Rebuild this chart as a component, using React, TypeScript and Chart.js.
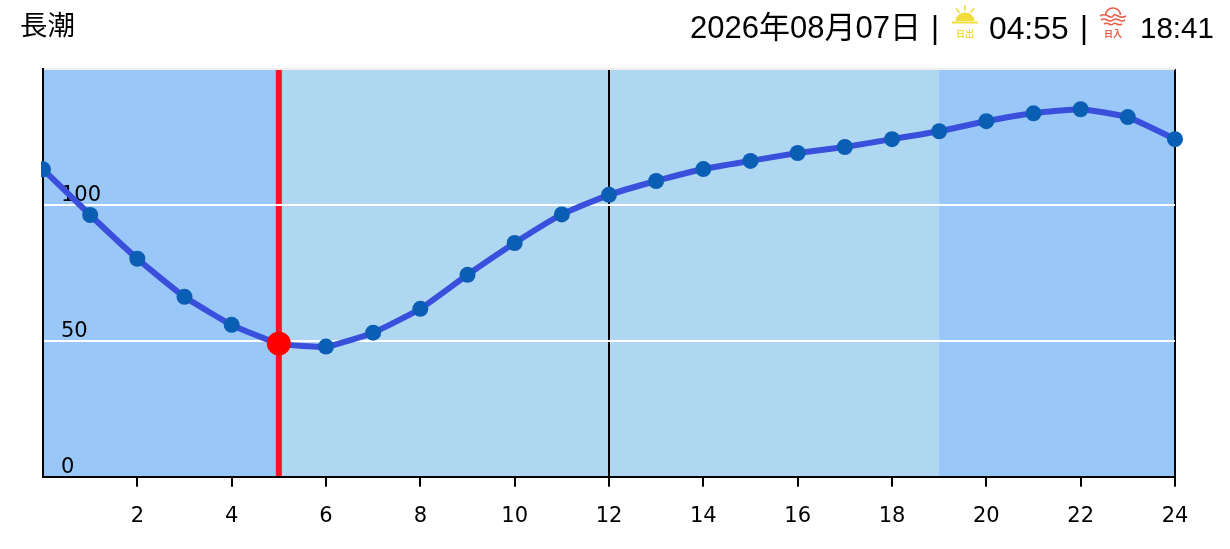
import React, { useEffect, useRef } from "react";
import { Chart, registerables } from "chart.js";

Chart.register(...registerables);

const TITLE = "長潮";
const DATE_TEXT = "2026年08月07日";
const SUNRISE_TEXT = "04:55";
const SUNSET_TEXT = "18:41";
const hours = [0, 1, 2, 3, 4, 5, 6, 7, 8, 9, 10, 11, 12, 13, 14, 15, 16, 17, 18, 19, 20, 21, 22, 23, 24];
const tide = [113.1, 96.3, 80.2, 66.2, 55.9, 49, 47.9, 53, 61.8, 74.3, 86, 96.5, 103.7, 108.8, 113.2, 116.2, 119.1, 121.3, 124.2, 127.1, 130.8, 133.7, 135.2, 132.3, 124.2];
const currentHour = [5];
const currentTide = [49];
const dayStart = 5;
const dayEnd = 19;
const strongHours = [0, 12, 24];

const FONT = '"Liberation Sans", "Noto Sans CJK JP", sans-serif';

const bands = {
  id: "bands",
  beforeDraw(chart: any) {
    const { ctx, chartArea: a, scales } = chart;
    const x = scales.x;
    const px = (v: number) => x.getPixelForValue(v);
    ctx.save();
    ctx.fillStyle = "#99c8f8";
    ctx.fillRect(a.left, a.top, a.right - a.left, a.bottom - a.top);
    ctx.fillStyle = "#b0d7f1";
    ctx.fillRect(px(dayStart), a.top, px(dayEnd) - px(dayStart), a.bottom - a.top);
    ctx.fillStyle = "#ff1027";
    ctx.fillRect(px(currentHour[0]) - 3, a.top, 6, a.bottom - a.top);
    ctx.restore();
  },
};

function Sun() {
  return (
    <svg width="28" height="38" viewBox="0 0 28 38" style={{ position: "absolute", left: 951, top: 4 }}>
      <g stroke="#f0dc3c" strokeWidth="1.8" strokeLinecap="round">
        <line x1="14" y1="2" x2="14" y2="6" />
        <line x1="5.5" y1="5" x2="8" y2="8" />
        <line x1="22.5" y1="5" x2="20" y2="8" />
      </g>
      <path d="M4.5 17 A9.5 8.5 0 0 1 23.5 17 Z" fill="#f0dc3c" />
      <rect x="1" y="17.5" width="26" height="2" fill="#f0dc3c" />
      <text x="14" y="33" textAnchor="middle" fontSize="9" fontWeight="700" fill="#f0dc3c" fontFamily='"Noto Sans CJK JP"'>日出</text>
    </svg>
  );
}

function Sunset() {
  return (
    <svg width="28" height="38" viewBox="0 0 28 38" style={{ position: "absolute", left: 1099, top: 4 }}>
      <g stroke="#e8604c" strokeWidth="1.6" fill="none">
        <path d="M6.5 11 A7.5 7 0 0 1 21.5 11" />
        <path d="M1 12 Q5 9.5 9 12 T14 12 T19 12 T27 12" />
        <path d="M2 16 Q5 14 8 16 T14 16 T20 16 T26 16" />
        <path d="M5 20 Q7.5 18.5 10 20 T14 20 T18 20 T23 20" />
      </g>
      <text x="14" y="33" textAnchor="middle" fontSize="9" fontWeight="700" fill="#e8604c" fontFamily='"Noto Sans CJK JP"'>日入</text>
    </svg>
  );
}

export default function App() {
  const ref = useRef<HTMLCanvasElement>(null);
  useEffect(() => {
    const chart = new Chart(ref.current!, {
      type: "line",
      data: {
        datasets: [
          {
            data: currentHour.map((h, i) => ({ x: h, y: currentTide[i] })),
            pointRadius: 12,
            pointHoverRadius: 12,
            pointBackgroundColor: "#ff0000",
            pointBorderWidth: 0,
            showLine: false,
            order: 0,
          },
          {
            data: hours.map((h, i) => ({ x: h, y: tide[i] })),
            borderColor: "#3a50dc",
            borderWidth: 6,
            tension: 0.15,
            pointRadius: 8,
            pointHoverRadius: 8,
            pointBackgroundColor: "#0a5eb4",
            pointBorderWidth: 0,
            clip: { left: 2, right: 10, top: 0, bottom: 0 },
            order: 1,
          },
        ],
      },
      options: {
        animation: false,
        responsive: false,
        events: [],
        layout: { padding: { left: 43, right: 55, top: 69, bottom: 3 } },
        plugins: { legend: { display: false }, tooltip: { enabled: false } },
        scales: {
          x: {
            type: "linear",
            min: 0,
            max: 24,
            ticks: {
              stepSize: 2,
              maxRotation: 0,
              color: "#000",
              padding: 17,
              font: { family: '"DejaVu Sans"', size: 21 },
              callback: (v: any) => (v === 0 ? "" : String(v)),
            },
            grid: {
              color: (c: any) => (strongHours.includes(c.tick?.value) ? "#000" : "transparent"),
              lineWidth: 2,
              tickLength: 10,
              tickColor: (c: any) => (c.tick?.value === 0 ? "transparent" : "#000"),
              tickWidth: 2,
            },
            border: { color: "#000", width: 2 },
          },
          y: {
            type: "linear",
            min: 0,
            max: 150,
            afterFit: (s: any) => {
              s.width = 0;
            },
            ticks: {
              stepSize: 50,
              mirror: true,
              padding: 18,
              labelOffset: -9,
              color: "#000",
              font: { family: '"DejaVu Sans"', size: 21 },
              callback: (v: any) => (v === 150 ? "" : String(v)),
            },
            grid: {
              color: (c: any) => (c.tick?.value === 150 ? "#eeeeee" : "#ffffff"),
              lineWidth: 2,
              drawTicks: false,
            },
            border: { color: "#000", width: 2 },
          },
        },
      },
      plugins: [bands],
    } as any);
    return () => chart.destroy();
  }, []);

  const text: React.CSSProperties = { position: "absolute", top: 10, fontFamily: FONT, fontSize: 31, lineHeight: "36px", color: "#000", whiteSpace: "pre" };

  return (
    <div style={{ position: "absolute", left: 0, top: 0, width: 1230, height: 549, background: "#fff", overflow: "hidden" }}>
      <canvas ref={ref} width={1230} height={549} style={{ position: "absolute", left: 0, top: 0, width: 1230, height: 549 }} />
      <div style={{ ...text, left: 20, top: 8, fontSize: 27.5 }}>{TITLE}</div>
      <div style={{ ...text, left: 690 }}>{DATE_TEXT}</div>
      <div style={{ ...text, left: 931 }}>|</div>
      <Sun />
      <div style={{ ...text, left: 989, fontSize: 31.8 }}>{SUNRISE_TEXT}</div>
      <div style={{ ...text, left: 1080 }}>|</div>
      <Sunset />
      <div style={{ ...text, left: 1140, fontSize: 29.5 }}>{SUNSET_TEXT}</div>
    </div>
  );
}
